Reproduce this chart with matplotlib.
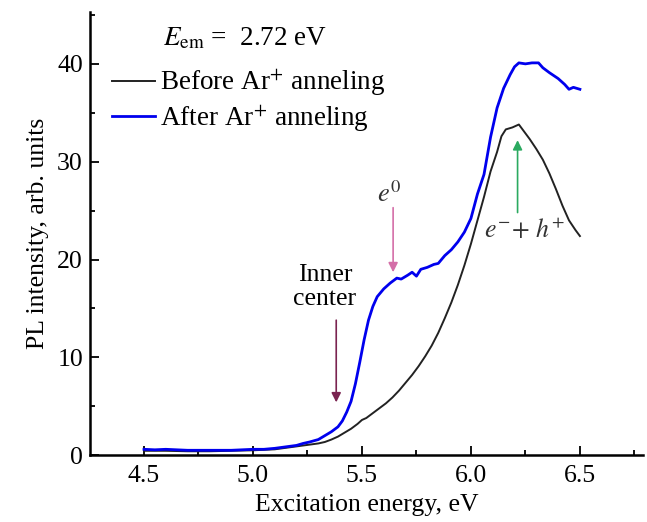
import matplotlib
matplotlib.use("Agg")
import matplotlib.pyplot as plt
from matplotlib.ticker import MultipleLocator, FormatStrFormatter

# excitation energy (eV) and PL intensity
x_before = [4.50, 4.60, 4.70, 4.80, 4.90, 5.00, 5.05, 5.10, 5.15, 5.20, 5.25, 5.30,
            5.33, 5.36, 5.39, 5.42, 5.45, 5.48, 5.50, 5.52, 5.55, 5.58, 5.61, 5.64,
            5.67, 5.70, 5.73, 5.76, 5.79, 5.82, 5.85, 5.88, 5.91, 5.94, 5.97, 6.00,
            6.03, 6.06, 6.09, 6.12, 6.14, 6.16, 6.19, 6.22, 6.24, 6.27, 6.30, 6.33,
            6.36, 6.39, 6.42, 6.45, 6.48, 6.50]
y_before = [0.45, 0.45, 0.40, 0.40, 0.45, 0.50, 0.55, 0.60, 0.75, 0.90, 1.05, 1.20,
            1.35, 1.60, 1.90, 2.30, 2.70, 3.20, 3.60, 3.80, 4.30, 4.80, 5.30, 5.90,
            6.60, 7.40, 8.20, 9.10, 10.1, 11.2, 12.5, 14.0, 15.6, 17.4, 19.4, 21.6,
            24.0, 26.4, 29.0, 31.0, 32.6, 33.3, 33.5, 33.8, 33.2, 32.3, 31.3, 30.2,
            28.8, 27.2, 25.5, 24.0, 23.0, 22.4]

x_after = [4.50, 4.55, 4.60, 4.70, 4.80, 4.90, 5.00, 5.05, 5.10, 5.15, 5.20, 5.23,
           5.26, 5.30, 5.33, 5.36, 5.39, 5.41, 5.43, 5.45, 5.47, 5.49, 5.51, 5.53,
           5.55, 5.57, 5.60, 5.63, 5.66, 5.68, 5.71, 5.73, 5.75, 5.77, 5.80, 5.83,
           5.85, 5.88, 5.91, 5.94, 5.97, 6.00, 6.03, 6.06, 6.09, 6.12, 6.15, 6.18,
           6.20, 6.22, 6.25, 6.28, 6.31, 6.33, 6.36, 6.40, 6.43, 6.45, 6.47, 6.50]
y_after = [0.60, 0.55, 0.60, 0.50, 0.50, 0.50, 0.60, 0.60, 0.70, 0.85, 1.00, 1.20,
           1.35, 1.60, 2.00, 2.40, 2.90, 3.50, 4.40, 5.50, 7.30, 9.50, 11.8, 13.8,
           15.2, 16.2, 17.0, 17.6, 18.1, 18.0, 18.4, 18.7, 18.3, 19.0, 19.2, 19.5,
           19.6, 20.4, 21.0, 21.8, 22.8, 24.2, 26.7, 28.7, 32.5, 35.5, 37.5, 38.9,
           39.7, 40.1, 40.0, 40.1, 40.1, 39.6, 39.1, 38.5, 37.9, 37.4, 37.6, 37.4]

plt.rcParams['font.family'] = ['Liberation Serif', 'DejaVu Serif']
plt.rcParams['mathtext.fontset'] = 'stix'

fig = plt.figure(figsize=(6.47, 5.22), dpi=100)
ax = fig.add_axes([0.139, 0.128, 0.855, 0.849])

ax.plot(x_before, y_before, color='#222222', lw=1.4, label="Before Ar$^{+}$ anneling")
ax.plot(x_after, y_after, color='#0000EE', lw=2.0, label="After Ar$^{+}$ anneling")

ax.set_xlim(4.252, 6.79)
ax.set_ylim(0, 45.3)
ax.xaxis.set_major_locator(MultipleLocator(0.5))
ax.xaxis.set_minor_locator(MultipleLocator(0.25))
ax.yaxis.set_major_locator(MultipleLocator(10))
ax.yaxis.set_minor_locator(MultipleLocator(5))
ax.xaxis.set_major_formatter(FormatStrFormatter('%.1f'))
ax.tick_params(which='both', direction='in', width=1.3, labelsize=18.5)
ax.tick_params(which='major', length=6.5)
ax.tick_params(which='minor', length=3.5)
ax.tick_params(axis='x', pad=7)
ax.tick_params(axis='y', pad=5)
for s in ['top', 'right']:
    ax.spines[s].set_visible(False)
for s in ['left', 'bottom']:
    ax.spines[s].set_linewidth(1.8)

ax.set_xlabel("Excitation energy, eV", fontsize=18.5, labelpad=5)
ax.set_ylabel("PL intensity, arb. units", fontsize=18.5, labelpad=6)

ax.text(0.132, 0.94, r"$E_{\mathrm{em}}$ =  2.72 eV", transform=ax.transAxes,
        fontsize=19.5, va='center', ha='left')
ax.legend(loc='upper left', bbox_to_anchor=(0.0, 0.924), frameon=False,
          fontsize=19.5, handlelength=1.6, handletextpad=0.2, labelspacing=0.15,
          borderaxespad=0.5, borderpad=0.3)

# annotations
ax.annotate("", xy=(5.382, 5.4), xytext=(5.382, 13.8),
            arrowprops=dict(arrowstyle='-|>', color='#7A2350', lw=1.2,
                            mutation_scale=14, shrinkA=0, shrinkB=0))
ax.text(5.33, 17.2, "Inner\ncenter", fontsize=18.5, ha='center', va='center',
        linespacing=1.1)

ax.annotate("", xy=(5.643, 18.7), xytext=(5.643, 25.3),
            arrowprops=dict(arrowstyle='-|>', color='#D46FA8', lw=1.2,
                            mutation_scale=14, shrinkA=0, shrinkB=0))
ax.text(5.625, 26.7, r"$e^{0}$", fontsize=19, ha='center', va='center', color='#333333')

ax.annotate("", xy=(6.214, 32.2), xytext=(6.214, 24.8),
            arrowprops=dict(arrowstyle='-|>', color='#2BAA60', lw=1.2,
                            mutation_scale=14, shrinkA=0, shrinkB=0))
ax.text(6.245, 23.0, r"$e^{-}\!+\,h^{+}$", fontsize=18.5, ha='center', va='center',
        color='#333333')

fig.savefig('out.png', dpi=100)
